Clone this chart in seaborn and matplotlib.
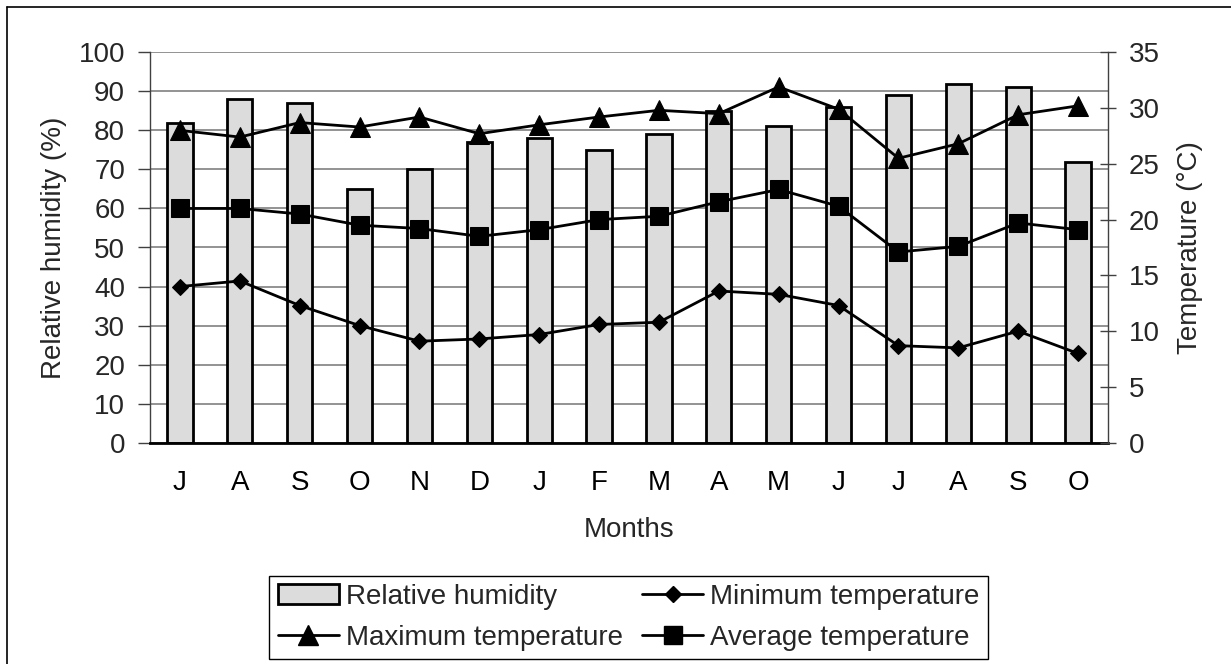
import numpy as np
import pandas as pd
import matplotlib
matplotlib.use("Agg")
import matplotlib.pyplot as plt
import seaborn as sns
from matplotlib.lines import Line2D
from matplotlib.patches import Patch

months = ["J", "A", "S", "O", "N", "D", "J", "F", "M", "A", "M", "J", "J", "A", "S", "O"]
humidity = [82, 88, 87, 65, 70, 77, 78, 75, 79, 85, 81, 86, 89, 92, 91, 72]
t_max = [28.0, 27.4, 28.7, 28.3, 29.2, 27.7, 28.5, 29.2, 29.8, 29.5, 31.9, 29.9, 25.5, 26.8, 29.4, 30.2]
t_avg = [21.0, 21.0, 20.5, 19.5, 19.2, 18.5, 19.1, 20.0, 20.3, 21.6, 22.7, 21.2, 17.1, 17.6, 19.7, 19.1]
t_min = [14.0, 14.5, 12.3, 10.5, 9.1, 9.3, 9.7, 10.6, 10.8, 13.6, 13.3, 12.3, 8.7, 8.5, 10.0, 8.0]

sns.set_theme(style="white")
plt.rcParams["font.family"] = ["Liberation Sans", "DejaVu Sans"]
FS = 20

df = pd.DataFrame({"idx": np.arange(len(months)), "rh": humidity,
                   "tmax": t_max, "tavg": t_avg, "tmin": t_min})

W, H = 1231, 664
fig = plt.figure(figsize=(W / 100, H / 100), dpi=100)
ax = fig.add_axes([150 / W, 1 - 442.7 / H, (1108 - 150) / W, (442.7 - 52.3) / H])

sns.barplot(data=df, x="idx", y="rh", ax=ax, color="#dcdcdc", saturation=1,
            edgecolor="black", linewidth=2, width=0.42, zorder=3)
for p in ax.patches:
    p.set_facecolor("#dcdcdc")

ax.set_ylim(0, 100)
ax.set_xlim(-0.5, len(months) - 0.5)
ax.set_yticks(np.arange(0, 101, 10))
ax.yaxis.grid(True, color="#808080", linewidth=1.2, zorder=0)
ax.set_axisbelow(True)
ax.set_xticks(np.arange(len(months)))
ax.set_xticklabels(months)
ax.set_xticks(np.arange(-0.5, len(months), 1.0), minor=True)
ax.tick_params(axis="x", which="major", length=0, pad=20, labelsize=FS, colors="black")
ax.tick_params(axis="x", which="minor", length=9, width=1.6, direction="out", color="black")
ax.tick_params(axis="y", length=9, width=1, direction="out", color="#404040",
               pad=9, labelsize=FS, left=True)
ax.spines["top"].set_visible(False)
ax.spines["right"].set_visible(False)
ax.spines["left"].set_color("#404040")
ax.spines["left"].set_linewidth(1)
ax.spines["bottom"].set_color("black")
ax.spines["bottom"].set_linewidth(2)
ax.spines["bottom"].set_zorder(5)

ax.set_xlabel("Months", fontsize=FS)
ax.xaxis.set_label_coords(0.5, -0.19)
ax.set_ylabel("Relative humidity (%)", fontsize=FS, va="center")
ax.yaxis.set_label_coords(-0.1, 0.5)

ax2 = ax.twinx()
sns.lineplot(data=df, x="idx", y="tmax", ax=ax2, color="black", linewidth=2,
             marker="^", markersize=14, markeredgecolor="black", legend=False)
sns.lineplot(data=df, x="idx", y="tavg", ax=ax2, color="black", linewidth=2,
             marker="s", markersize=13, markeredgecolor="black", legend=False)
sns.lineplot(data=df, x="idx", y="tmin", ax=ax2, color="black", linewidth=2,
             marker="D", markersize=8.5, markeredgecolor="black", legend=False)
ax2.set_ylim(0, 35)
ax2.set_xlim(-0.5, len(months) - 0.5)
ax2.set_yticks(np.arange(0, 36, 5))
ax2.grid(False)
ax2.tick_params(axis="y", length=12, width=1, direction="inout", color="#404040",
                pad=9, labelsize=FS, right=True)
for s in ["top", "left", "bottom"]:
    ax2.spines[s].set_visible(False)
ax2.spines["right"].set_color("#404040")
ax2.spines["right"].set_linewidth(1)
ax2.set_ylabel("Temperature (°C)", fontsize=FS, va="center")
ax2.yaxis.set_label_coords(1.0856, 0.5)
ax2.set_xlabel("")

h_rh = Patch(facecolor="#dcdcdc", edgecolor="black", linewidth=2)
h_min = Line2D([], [], color="black", linewidth=2, marker="D", markersize=8.5)
h_max = Line2D([], [], color="black", linewidth=2, marker="^", markersize=14)
h_avg = Line2D([], [], color="black", linewidth=2, marker="s", markersize=13)
leg = fig.legend([h_rh, h_max, h_min, h_avg],
                 ["Relative humidity", "Maximum temperature",
                  "Minimum temperature", "Average temperature"],
                 ncol=2, loc="center", bbox_to_anchor=(628.5 / W, 1 - 617.5 / H),
                 fontsize=FS, frameon=True, fancybox=False, edgecolor="black",
                 framealpha=1, handlelength=2.2, handletextpad=0.25,
                 columnspacing=0.7, labelspacing=0.55, borderpad=0.3,
                 borderaxespad=0)
leg.get_frame().set_linewidth(1)

fig.add_artist(Line2D([7 / W, 7 / W], [0, 1 - 7 / H], transform=fig.transFigure,
                      color="black", linewidth=1.2))
fig.add_artist(Line2D([7 / W, 1], [1 - 7 / H, 1 - 7 / H], transform=fig.transFigure,
                      color="black", linewidth=1.2))

fig.savefig("out.png", dpi=100, facecolor="white")
